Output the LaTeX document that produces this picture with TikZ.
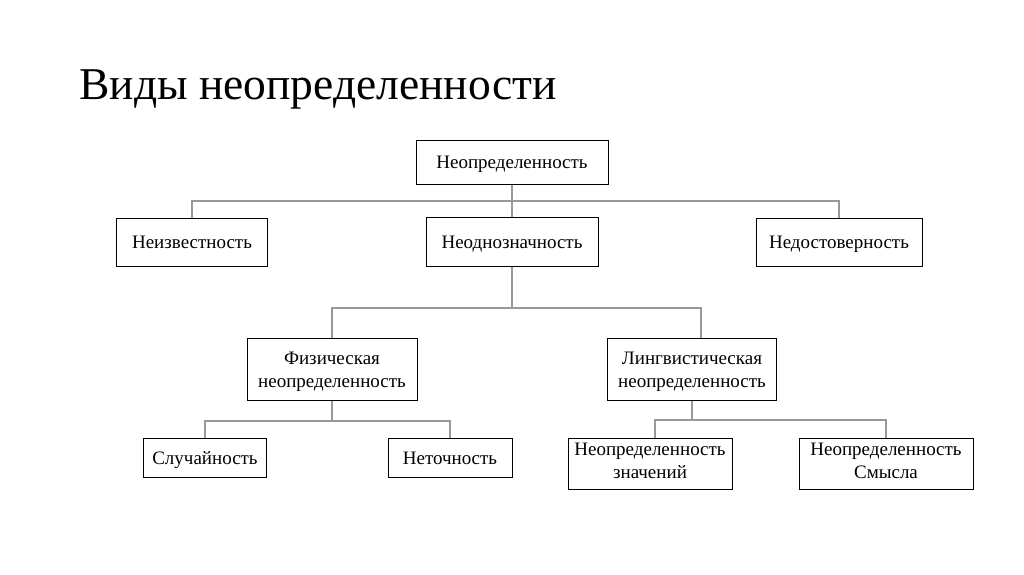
\documentclass[tikz,border=0pt]{standalone}
\usepackage{fontspec}
\setmainfont{Liberation Serif}
\usepackage{tikz}

\tikzset{
    block/.style={draw=black, line width=1pt, fill=white, align=center, inner sep=0pt,
        text height=12.5pt, text depth=0pt, font=\fontsize{19}{23}\selectfont},
    pair/.style={text height=#1},
    link/.style={draw=black!40, line width=1.1pt}
}

\begin{document}
\begin{tikzpicture}[x=1pt, y=-1pt]
    \useasboundingbox (0,0) rectangle (1024,574);

    \node[anchor=base west, font=\fontsize{45.5}{50}\selectfont] (title) at (76,99) {Виды неопределенности};

    \node[block, minimum width=192, minimum height=44] (root) at (512,162) {Неопределенность};

    \node[block, minimum width=151, minimum height=48] (unkn) at (192,242) {Неизвестность};
    \node[block, minimum width=172, minimum height=49] (ambig) at (512,242) {Неоднозначность};
    \node[block, minimum width=166, minimum height=48] (unrel) at (839,242) {Недостоверность};

    \node[block, pair=37.5pt, minimum width=170, minimum height=62] (phys) at (332,369) {Физическая\\неопределенность};
    \node[block, pair=37.5pt, minimum width=169, minimum height=62] (ling) at (692,369) {Лингвистическая\\неопределенность};

    \node[block, minimum width=123, minimum height=39] (rand) at (205,458) {Случайность};
    \node[block, minimum width=124, minimum height=39] (inacc) at (450,458) {Неточность};
    \node[block, pair=29pt, minimum width=164, minimum height=51] (meanv) at (650,464) {Неопределенность\\значений};
    \node[block, pair=29pt, minimum width=174, minimum height=51] (means) at (886,464) {Неопределенность\\Смысла};

    \coordinate (bus1) at (512,201);
    \coordinate (bus2) at (512,308);
    \coordinate (bus3) at (332,421);
    \coordinate (bus4) at (692,420);

    \draw[link] (root.south) -- (ambig.north);
    \draw[link] (unkn.north) |- (bus1) -| (unrel.north);

    \draw[link] (ambig.south) -- (bus2);
    \draw[link] (phys.north) |- (bus2) -| ([xshift=9pt]ling.north);

    \draw[link] (phys.south) -- (bus3);
    \draw[link] (rand.north) |- (bus3) -| (inacc.north);

    \draw[link] (ling.south) -- (bus4);
    \draw[link] ([xshift=5pt]meanv.north) |- (bus4) -| (means.north);
\end{tikzpicture}
\end{document}
